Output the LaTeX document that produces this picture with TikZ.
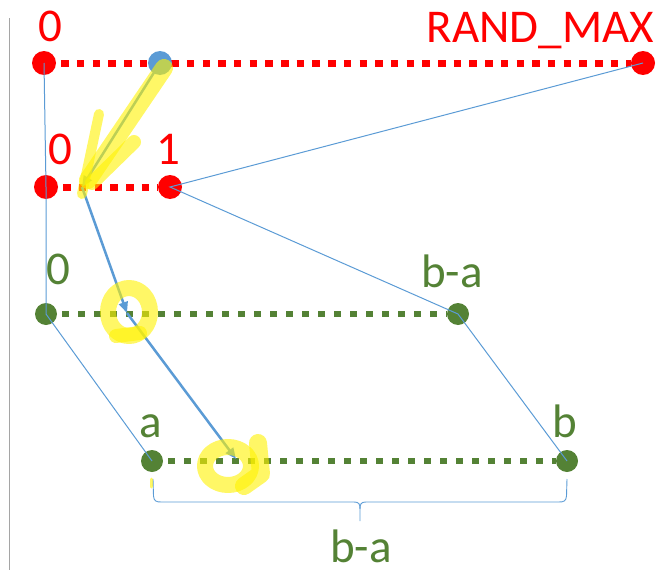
\documentclass[tikz,border=0pt]{standalone}
\usepackage{fontspec}
\setmainfont{Carlito}
\usetikzlibrary{arrows.meta,backgrounds}
\definecolor{officeblue}{RGB}{91,155,213}
\definecolor{dotred}{RGB}{255,0,0}
\definecolor{dotgreen}{RGB}{84,130,53}
\definecolor{axisgray}{RGB}{165,165,165}
\begin{document}
\begin{tikzpicture}[x=1pt,y=-1pt,
  reddot/.style={circle,fill=dotred,minimum size=24pt,inner sep=0pt},
  bluedot/.style={circle,fill=officeblue,minimum size=24pt,inner sep=0pt},
  greendot/.style={circle,fill=dotgreen,minimum size=22pt,inner sep=0pt},
  bigtext/.style={font=\fontsize{47}{50}\selectfont,anchor=base,inner sep=0pt},
  redlabel/.style={bigtext,text=dotred},
  greenlabel/.style={bigtext,text=dotgreen},
  reddash/.style={draw=dotred,line width=7pt,dash pattern=on 7.5pt off 8.2pt,dash phase=-5pt},
  greendash/.style={draw=dotgreen,line width=6.5pt,dash pattern=on 7pt off 9pt,dash phase=-5pt},
  leader/.style={draw=officeblue,line width=1pt},
  flow/.style={draw=officeblue,line width=2.5pt,-{Triangle[length=11pt,width=9pt]}},
  marker/.style={draw=yellow,opacity=0.6,line cap=round,line join=round}]
\useasboundingbox (0,0) rectangle (659,570);

% vertical axis on the left
\draw[axisgray,line width=1pt] (9,18) -- (9,570);

% range end points
\node[reddot]   (r0)   at (44,63)  {};
\node[bluedot]  (rv)   at (160,63) {};
\node[reddot]   (rmax) at (643,63) {};
\node[reddot]   (u0)   at (46,187) {};
\node[reddot]   (u1)   at (170,187) {};
\node[greendot] (g0)   at (46,314) {};
\node[greendot] (gba)  at (458,314) {};
\node[greendot] (ga)   at (152,461) {};
\node[greendot] (gb)   at (567,461) {};

% dotted ranges behind the points
\begin{scope}[on background layer]
  \draw[reddash] (r0) -- (rmax);
  \draw[reddash] (u0) -- (u1);
  \draw[greendash] (g0) -- (gba);
  \draw[greendash] (ga) -- (gb);
\end{scope}

% labels
\node[redlabel] at (50,41) {0};
\node[redlabel,anchor=base east] at (654,42) {RAND\_MAX};
\node[redlabel] at (60,164) {0};
\node[redlabel] at (168,164) {1};
\node[greenlabel] at (58,284) {0};
\node[greenlabel] at (452,287) {b-a};
\node[greenlabel] at (151,437) {a};
\node[greenlabel] at (565,437) {b};
\node[greenlabel,text depth=0pt] at (361,562) {b-a};

% mapping lines between the ranges
\draw[leader] (r0.center) -- (u0.center) -- (g0.center) -- (ga.center);
\draw[leader] (rmax.center) -- (u1.center) -- (gba.center) -- (gb.center);

% brace under the final range
\coordinate (bl) at (153,479);
\coordinate (br) at (567,479);
\coordinate (bm) at (360,521);
\draw[leader,line width=0.9pt] (bl) -- (153.5,496) .. controls (154,501) and (156,502) .. (161,502)
  -- (354,502) .. controls (359,502) and (360,504) .. (360,509) -- (bm);
\draw[leader,line width=0.9pt] (br) -- (566.5,496) .. controls (566,501) and (564,502) .. (559,502)
  -- (366,502) .. controls (361,502) and (360,504) .. (360,509);

% path of one sample value
\coordinate (p1) at (82,187);
\coordinate (p2) at (127,313);
\coordinate (p3) at (236,459);
\draw[flow] (rv.center) -- (p1);
\draw[flow] (p1) -- (p2);
\draw[flow] (p2) -- (p3);

% highlighter strokes
\draw[marker,line width=18pt] (164,68) -- (88,180);
\draw[marker,line width=10pt] (99,114) -- (82,194);
\draw[marker,line width=14pt] (134,142) -- (92,183);
\draw[marker,line width=16pt] (129,312) ellipse [x radius=21, y radius=24];
\draw[marker,line width=14pt] (116,336) -- (140,333);
\draw[marker,line width=16pt] (228,466) ellipse [x radius=23, y radius=19];
\draw[marker,line width=18pt] (258,443) -- (261,474) -- (244,486);
\draw[marker,line width=3pt] (151,479) -- (151,487);
\end{tikzpicture}
\end{document}
